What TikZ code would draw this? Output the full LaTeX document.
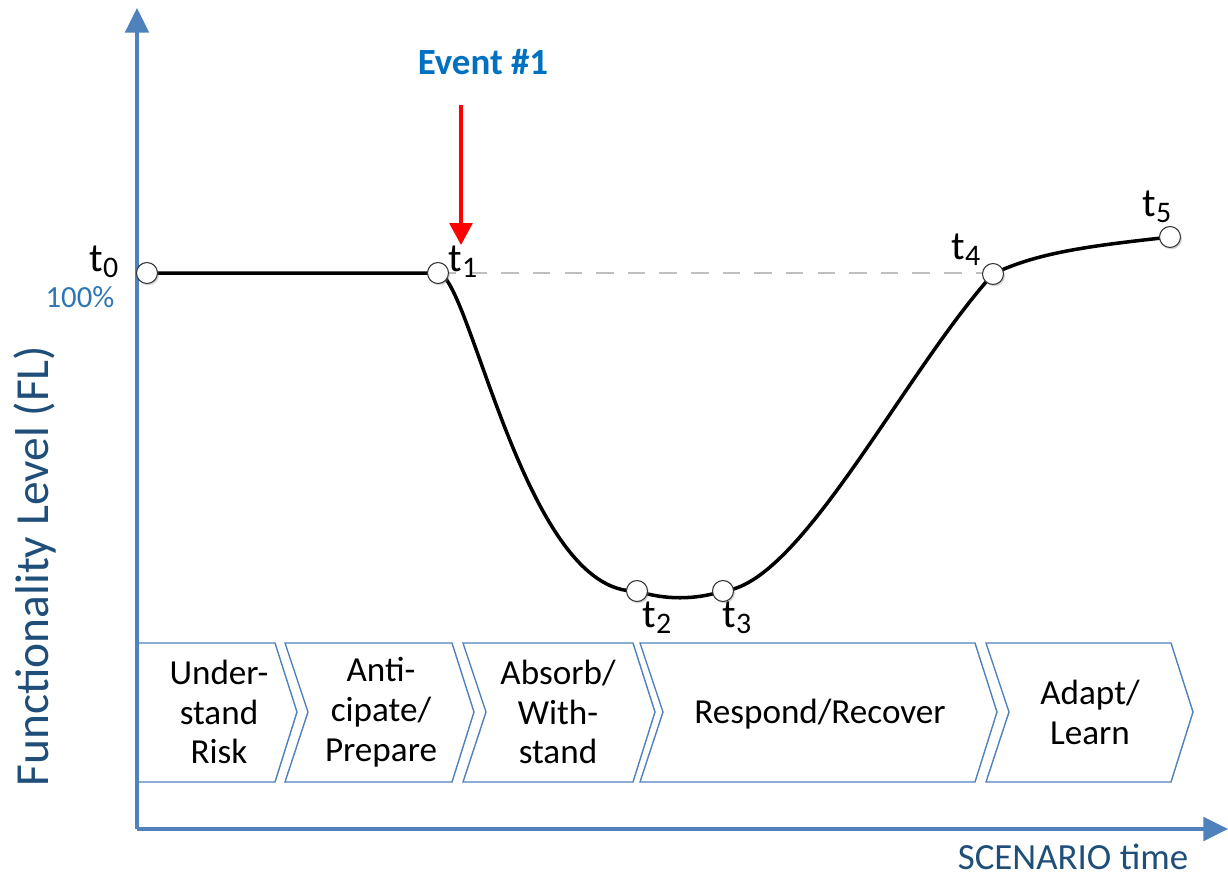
\documentclass[tikz,border=0pt]{standalone}
\usepackage{fontspec}
\setmainfont{Carlito}
\usetikzlibrary{arrows.meta,shadows}
\definecolor{axisblue}{RGB}{79,129,189}
\definecolor{labelblue}{RGB}{31,78,121}
\definecolor{pctblue}{RGB}{46,117,182}
\definecolor{eventblue}{RGB}{0,112,192}
\definecolor{dashgray}{RGB}{191,191,191}
\newcommand{\tsub}[1]{t\raisebox{-0.32ex}{\fontsize{17}{17}\selectfont #1}}
\begin{document}
\begin{tikzpicture}[x=0.02cm,y=-0.02cm,
  tpoint/.style={circle,draw=black!80,fill=white,line width=0.6pt,minimum size=0.42cm,inner sep=0pt,
    drop shadow={shadow xshift=0.8pt,shadow yshift=-1pt,opacity=0.35}},
  tlabel/.style={font=\fontsize{23}{23}\selectfont,inner sep=0pt},
  phase/.style={font=\fontsize{20}{22.7}\selectfont,align=center,inner sep=0pt},
  curve/.style={line width=2pt,black},
  chevron/.style={draw=axisblue,line width=0.8pt,fill=white},
  axis/.style={draw=axisblue,line width=1.8pt,-{Triangle[length=14pt,width=13.5pt]}}]
\useasboundingbox (0,0) rectangle (1228,880);

\foreach \xl/\xr/\n in {138/275/0, 285/452/1, 463/633/1, 640/975/1, 986/1171/1}
  \draw[chevron] (\xl,643) -- (\xr,643) -- (\xr+22,712) -- (\xr,782) -- (\xl,782) -- (\xl+\n*23,712) -- cycle;

\node[phase] (understand) at (219,712) {Under-\\stand\\Risk};
\node[phase] (anticipate) at (381,712) {Anti-\\cipate/\\Prepare};
\node[phase] (absorb) at (558,712) {Absorb/\\With-\\stand};
\node[phase] (respond) at (820,714) {Respond/Recover};
\node[phase] (adapt) at (1090,712) {Adapt/\\Learn};

\coordinate (origin) at (137,829);
\coordinate (ytip) at (137,8);
\coordinate (xtip) at (1228,829);
\draw[axis] (origin) -- (ytip);
\draw[axis] (origin) -- (xtip);

\node[rotate=90,text=labelblue,font=\fontsize{27}{27}\selectfont] (ylabel) at (35,566) {Functionality Level (FL)};
\node[text=labelblue,font=\fontsize{21}{21}\selectfont,inner sep=0pt] (xlabel) at (1073,857) {SCENARIO time};
\node[text=pctblue,font=\fontsize{17.5}{17.5}\selectfont] (full) at (80,297) {100\%};

\node[text=eventblue,font=\bfseries\fontsize{21}{21}\selectfont] (event) at (483,62) {Event \#1};
\coordinate (evstart) at (461,105);
\coordinate (evhit) at (461,245);
\draw[red,line width=1.8pt,-{Triangle[length=12.5pt,width=13pt]}] (evstart) -- (evhit);

\coordinate (p0) at (147,273);
\coordinate (p1) at (438,273);
\coordinate (p2) at (637,591);
\coordinate (p3) at (723,591);
\coordinate (p4) at (993,274);
\coordinate (p5) at (1170,237);

\draw[dashgray,line width=1.2pt,dash pattern=on 10pt off 8pt] (p1) -- (p1 -| p4);
\draw[curve] (p0) -- (p1)
  .. controls +(32,2) and +(-112,4) .. (p2)
  .. controls +(28,9) and +(-28,9) .. (p3)
  .. controls +(77,-6) and +(-90,100) .. (p4)
  .. controls +(47,-23) and +(-70,8) .. (p5);

\node[tpoint] (t0) at (p0) {};
\node[tpoint] (t1) at (p1) {};
\node[tpoint] (t2) at (p2) {};
\node[tpoint] (t3) at (p3) {};
\node[tpoint] (t4) at (p4) {};
\node[tpoint] (t5) at (p5) {};

\node[tlabel] (l0) at (104,262) {\tsub{0}};
\node[tlabel] (l1) at (463,262) {\tsub{1}};
\node[tlabel] (l2) at (657,618) {\tsub{2}};
\node[tlabel] (l3) at (737,618) {\tsub{3}};
\node[tlabel] (l4) at (966,250) {\tsub{4}};
\node[tlabel] (l5) at (1157,207) {\tsub{5}};
\end{tikzpicture}
\end{document}
